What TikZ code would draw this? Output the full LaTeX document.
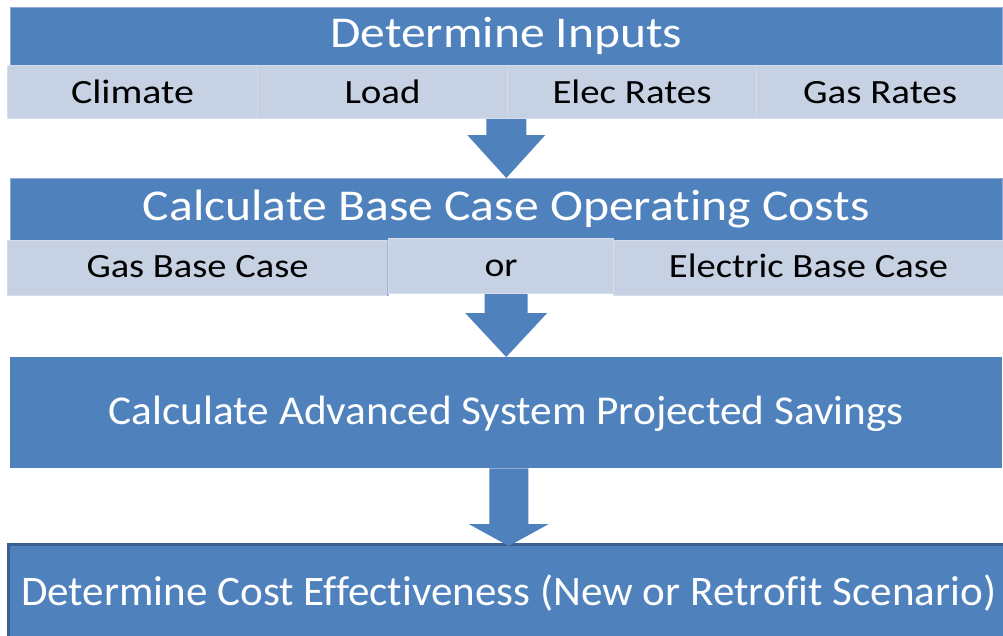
\documentclass[tikz,border=0pt]{standalone}
\usepackage{fontspec}
\setmainfont{Carlito}[Ligatures=NoCommon]
\usetikzlibrary{calc}

\definecolor{boxblue}{HTML}{4F81BD}
\definecolor{boxline}{HTML}{8FAAD6}
\definecolor{cellfill}{HTML}{C6D1E4}
\definecolor{celledge}{HTML}{D5DDEB}
\definecolor{celldark}{HTML}{9FB2D2}
\definecolor{boxedge}{HTML}{3B5F8E}

% stretch a label horizontally to a given width, keeping its height
\newcommand\fitw[2]{\resizebox{#1}{\height}{#2}}

% thick block arrow: #1 source, #2 target (tip), #3 head length,
% #4 half head width, #5 half shaft width
\newcommand\blockarrow[5]{%
  \fill[boxblue] let \p1=(#1), \p2=(#2) in
    (\x2-#5,\y1) -- (\x2+#5,\y1) -- (\x2+#5,\y2+#3) -- (\x2+#4,\y2+#3)
    -- (\x2,\y2) -- (\x2-#4,\y2+#3) -- (\x2-#5,\y2+#3) -- cycle;}

\begin{document}
\begin{tikzpicture}[x=1pt,y=-1pt,
  header/.style={fill=boxblue, draw=boxline, line width=0.6pt, text=white,
    inner sep=0pt, anchor=north west, text depth=0pt,
    font=\fontsize{44}{44}\selectfont},
  cell/.style={fill=cellfill, draw=celledge, line width=1pt, text=black,
    inner sep=0pt, anchor=north west, text depth=0pt,
    font=\fontsize{34}{34}\selectfont},
  bigbox/.style={fill=boxblue, text=white, inner sep=0pt,
    anchor=north west, text depth=0pt}]
\clip (0,0) rectangle (1003,635);
\fill[white] (0,0) rectangle (1003,635);

% step 1: inputs
\node[header, minimum width=992, minimum height=58, text height=22]
  (inputs) at (10,7) {\fitw{352pt}{Determine Inputs}};
\node[cell, minimum width=250, minimum height=53, text height=23]
  (climate) at (7,65) {\fitw{123pt}{Climate}};
\node[cell, minimum width=250, minimum height=53, text height=23]
  (load) at (257,65) {\fitw{76pt}{Load}};
\node[cell, minimum width=249, minimum height=53, text height=23]
  (elec) at (507,65) {\fitw{159pt}{Elec Rates}};
\node[cell, minimum width=247, minimum height=53, text height=23]
  (gasrates) at (756,65) {\fitw{154pt}{Gas Rates}};
\coordinate (in-bottom) at (inputs.south |- load.south);

% step 2: base case
\node[header, minimum width=992, minimum height=62, text height=22]
  (base) at (10,178) {\fitw{727pt}{Calculate Base Case Operating Costs}};
\node[cell, minimum width=380, minimum height=55, text height=19]
  (gasbase) at (7,240) {\fitw{222pt}{Gas Base Case}};
\draw[celldark, line width=1.2pt] (gasbase.north east) -- (gasbase.south east);
\node[cell, minimum width=225, minimum height=55, text height=21]
  (or) at (388,238) {\fitw{33pt}{or}};
\node[cell, minimum width=390, minimum height=55, text height=19]
  (elecbase) at (613,240) {\fitw{279pt}{Electric Base Case}};
\coordinate (base-bottom) at (base.south |- or.south);

% step 3: savings
\node[bigbox, minimum width=992, minimum height=111, text height=23,
  font=\fontsize{41}{41}\selectfont]
  (savings) at (10,357) {\fitw{795pt}{Calculate Advanced System Projected Savings}};

% step 4: cost effectiveness
\node[bigbox, draw=boxedge, line width=2.5pt, minimum width=1001,
  minimum height=100, text height=22, font=\fontsize{42}{42}\selectfont]
  (cost) at (7,543) {\fitw{975pt}{Determine Cost Effectiveness (New or Retrofit Scenario)}};
\coordinate (cost-tip) at ($(cost.north)+(0,3)$);

% connectors between the steps
\blockarrow{in-bottom}{base.north}{43pt}{39pt}{20pt}
\blockarrow{base-bottom}{savings.north}{44pt}{41pt}{21.5pt}
\blockarrow{savings.south}{cost-tip}{22pt}{40pt}{19.5pt}
\end{tikzpicture}
\end{document}
